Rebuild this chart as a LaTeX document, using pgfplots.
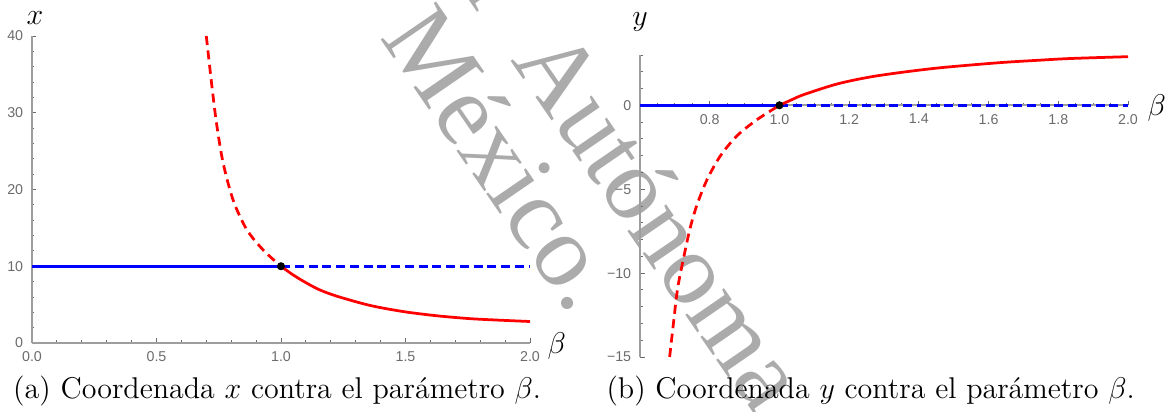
\documentclass[border=0pt]{standalone}
\usepackage{fontspec}
\usepackage{pgfplots}
\pgfplotsset{compat=1.18}
\newfontfamily\ticksf{Liberation Sans}
\newfontfamily\wmfont{Liberation Serif}
\definecolor{axgray}{rgb}{0.62,0.62,0.62}
\definecolor{tickgray}{rgb}{0.42,0.42,0.42}
\definecolor{wmgray}{rgb}{0.67,0.67,0.67}
\pgfplotsset{
  mathstyle/.style={
    scale only axis, clip=false,
    axis line style={draw=axgray, line width=0.7pt},
    tick align=inside,
    major tick length=1.8pt, minor tick length=1.0pt,
    tick style={draw=tickgray, line width=0.35pt},
    tick label style={font=\ticksf\fontsize{5.7}{6}\selectfont, text=tickgray},
  },
  solidred/.style={red, line width=1.1pt, smooth},
  dashred/.style={red, line width=1.1pt, smooth, dash pattern=on 3.6pt off 2.2pt},
  solidblue/.style={blue, line width=1.1pt},
  dashblue/.style={blue, line width=1.1pt, dash pattern=on 3.6pt off 1.9pt},
  blackdot/.style={only marks, mark=*, mark size=1.4pt, black},
}
\begin{document}
\begin{tikzpicture}
\useasboundingbox (0,0) rectangle (468pt,-164.8pt);
% watermark
\node[wmgray, rotate=-55.5, anchor=base east, inner sep=0pt, font=\wmfont\fontsize{41}{41}\selectfont] at (204.4pt,-24.2pt) {Universidad Nacional\hspace{0.55em}\rlap{Autónoma de}};
\node[wmgray, rotate=-55.5, anchor=base, inner sep=0pt, font=\wmfont\fontsize{41}{41}\selectfont] at (190pt,-71pt) {México.};

% left panel
\begin{axis}[mathstyle,
  at={(12.8pt,-137.2pt)}, anchor=south west,
  width=199.2pt, height=122.8pt,
  xmin=0, xmax=2, ymin=0, ymax=40,
  axis lines*=left,
  xtick={0,0.5,1,1.5,2}, xticklabels={0.0,0.5,1.0,1.5,2.0},
  ytick={0,10,20,30,40}, yticklabels={0,10,20,30,40},
  minor x tick num=4, minor y tick num=4,
]
\addplot[solidblue] coordinates {(0,10) (1,10)};
\addplot[dashblue] coordinates {(1,10) (2,10)};
\addplot[dashred] coordinates {(0.700,40.0) (0.722,33.6) (0.742,28.4) (0.768,23.4) (0.808,18.6) (0.862,14.8) (0.929,12.1) (1.0,10.0)};
\addplot[solidred] coordinates {(1.0,10.0) (1.045,8.95) (1.09,8.05) (1.15,7.0) (1.224,6.1) (1.357,4.9) (1.49,4.1) (1.625,3.55) (1.76,3.17) (1.893,2.95) (2.0,2.8)};
\addplot[blackdot] coordinates {(1,10)};
\end{axis}

% right panel
\begin{axis}[mathstyle,
  at={(256pt,-142.8pt)}, anchor=south west,
  width=195.2pt, height=120.8pt,
  xmin=0.6, xmax=2, ymin=-15, ymax=3,
  axis x line*=middle, axis y line*=left,
  hide obscured x ticks=false, hide obscured y ticks=false,
  xtick={0.8,1.0,1.2,1.4,1.6,1.8,2.0}, xticklabels={0.8,1.0,1.2,1.4,1.6,1.8,2.0},
  ytick={-15,-10,-5,0}, yticklabels={−15,−10,−5,0},
  minor xtick={0.65,0.7,0.75,0.85,0.9,0.95,1.05,1.1,1.15,1.25,1.3,1.35,1.45,1.5,1.55,1.65,1.7,1.75,1.85,1.9,1.95},
  minor ytick={-14,-13,-12,-11,-9,-8,-7,-6,-4,-3,-2,-1,1,2,3},
]
\addplot[solidblue] coordinates {(0.6,0) (1,0)};
\addplot[dashblue] coordinates {(1,0) (2,0)};
\addplot[dashred] coordinates {(0.685,-15.0) (0.697,-12.8) (0.708,-10.9) (0.726,-9.0) (0.744,-7.3) (0.764,-5.9) (0.793,-4.4) (0.831,-3.0) (0.879,-1.8) (0.936,-0.85) (1.0,0)};
\addplot[solidred] coordinates {(1.0,0) (1.035,0.33) (1.07,0.64) (1.165,1.27) (1.26,1.69) (1.356,1.98) (1.452,2.22) (1.547,2.40) (1.643,2.56) (1.738,2.68) (1.834,2.79) (2.0,2.90)};
\addplot[blackdot] coordinates {(1,0)};
\end{axis}

% axis labels
\node[anchor=base, inner sep=0pt, font=\fontsize{11.7}{14}\selectfont] at (14pt,-10pt) {$x$};
\node[anchor=base west, inner sep=0pt, font=\fontsize{11.7}{14}\selectfont] at (218.8pt,-141.6pt) {$\beta$};
\node[anchor=base, inner sep=0pt, font=\fontsize{11.7}{14}\selectfont] at (256pt,-10.4pt) {$y$};
\node[anchor=base west, inner sep=0pt, font=\fontsize{11.7}{14}\selectfont] at (458.8pt,-46.4pt) {$\beta$};

% captions
\node[anchor=base west, inner sep=0pt, font=\fontsize{12}{14}\selectfont] at (5.1pt,-159.6pt) {(a) Coordenada $x$ contra el parámetro $\beta$.};
\node[anchor=base west, inner sep=0pt, font=\fontsize{12}{14}\selectfont] at (242.4pt,-159.6pt) {(b) Coordenada $y$ contra el parámetro $\beta$.};
\end{tikzpicture}
\end{document}
